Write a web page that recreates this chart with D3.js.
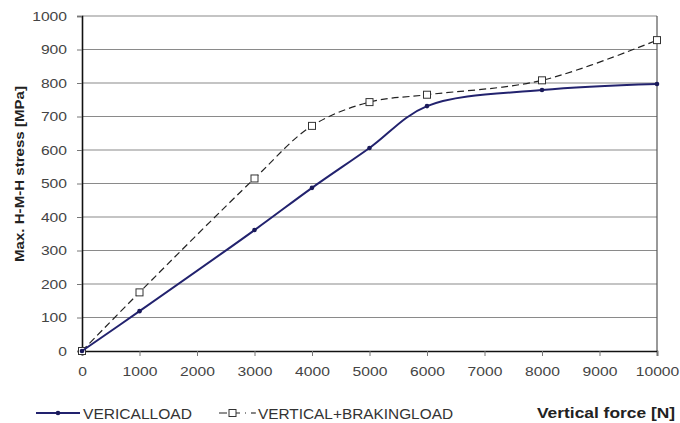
<!DOCTYPE html>
<html><head><meta charset="utf-8">
<script src="https://cdn.jsdelivr.net/npm/d3@7"></script>
<style>body{margin:0;background:#fff;font-family:"Liberation Sans",Arial,sans-serif;}</style>
</head><body><svg id="c" width="680" height="423"></svg>
<script>
const forces = [0, 1000, 3000, 4000, 5000, 6000, 8000, 10000];
const verticalLoad = [0, 119, 361, 487, 606, 731, 779, 797];
const verticalBraking = [0, 175, 515, 672, 743, 765, 808, 928];
const xTicks = [0,1000,2000,3000,4000,5000,6000,7000,8000,9000,10000];
const yTicks = [0,100,200,300,400,500,600,700,800,900,1000];
const seriesNames = ["VERICALLOAD", "VERTICAL+BRAKINGLOAD"];

const svg = d3.select("#c");
const m = {l:82, r:657, t:16, b:351};
const x = d3.scaleLinear().domain([0,10000]).range([m.l, m.r]);
const y = d3.scaleLinear().domain([0,1000]).range([m.b, m.t]);
const FF = "Liberation Sans, Arial, sans-serif";

// grid
svg.append("g").selectAll("line").data(yTicks.slice(1)).join("line")
  .attr("x1", m.l).attr("x2", m.r).attr("y1", d=>y(d)).attr("y2", d=>y(d))
  .attr("stroke", "#8a8a8a").attr("stroke-width", 1.2);
svg.append("line").attr("x1", m.r).attr("x2", m.r).attr("y1", m.t).attr("y2", m.b)
  .attr("stroke", "#555").attr("stroke-width", 1.2);

// axes
const yAxis = d3.axisLeft(y).tickValues(yTicks).tickSize(5).tickPadding(10).tickFormat(d3.format("d"));
const gy = svg.append("g").attr("transform", `translate(${m.l},0)`).call(yAxis);
const xAxis = d3.axisBottom(x).tickValues(xTicks).tickSize(5).tickPadding(10).tickFormat(d3.format("d"));
const gx = svg.append("g").attr("transform", `translate(0,${m.b})`).call(xAxis);
[gy, gx].forEach(g => {
  g.select(".domain").attr("stroke", "#111").attr("stroke-width", 1.6);
  g.selectAll(".tick line").attr("stroke", "#777");
  g.selectAll("text").attr("font-family", FF).attr("font-size", 13.5).attr("fill", "#444")
    .attr("textLength", function(){ return this.textContent.length * 8.7; })
    .attr("lengthAdjust", "spacingAndGlyphs");
});

// y title
svg.append("text").attr("transform", `translate(24,174) rotate(-90)`)
  .attr("text-anchor", "middle").attr("font-size", 12.5).attr("font-weight", "bold").attr("fill", "#222")
  .attr("textLength", 176).attr("lengthAdjust", "spacingAndGlyphs")
  .text("Max. H-M-H stress [MPa]");

const pts1 = forces.map((f,i)=>[f, verticalLoad[i]]);
const pts2 = forces.map((f,i)=>[f, verticalBraking[i]]);
const line = d3.line().x(d=>x(d[0])).y(d=>y(d[1])).curve(d3.curveCatmullRom.alpha(0.5));

svg.append("path").attr("d", line(pts2)).attr("fill", "none").attr("stroke", "#222")
  .attr("stroke-width", 1.2).attr("stroke-dasharray", "7,4");
svg.append("g").selectAll("rect").data(pts2).join("rect")
  .attr("x", d=>x(d[0])-3.5).attr("y", d=>y(d[1])-3.5).attr("width", 7).attr("height", 7)
  .attr("fill", "#fff").attr("stroke", "#333").attr("stroke-width", 1);

svg.append("path").attr("d", line(pts1)).attr("fill", "none").attr("stroke", "#22226e")
  .attr("stroke-width", 2);
svg.append("g").selectAll("circle").data(pts1).join("circle")
  .attr("cx", d=>x(d[0])).attr("cy", d=>y(d[1])).attr("r", 2.3).attr("fill", "#1a1a5a");

// legend
const ly = 413;
svg.append("line").attr("x1", 36).attr("x2", 80).attr("y1", ly).attr("y2", ly).attr("stroke", "#22226e").attr("stroke-width", 2);
svg.append("circle").attr("cx", 58).attr("cy", ly).attr("r", 2.3).attr("fill", "#1a1a5a");
svg.append("text").attr("x", 83).attr("y", ly+6).attr("font-size", 14).attr("fill", "#333")
  .attr("textLength", 109).attr("lengthAdjust", "spacingAndGlyphs").text(seriesNames[0]);
svg.append("line").attr("x1", 219).attr("x2", 246).attr("y1", ly).attr("y2", ly).attr("stroke", "#222").attr("stroke-width", 1.2).attr("stroke-dasharray", "8,5");
svg.append("rect").attr("x", 229).attr("y", ly-3.5).attr("width", 7).attr("height", 7).attr("fill", "#fff").attr("stroke", "#333");
svg.append("line").attr("x1", 251).attr("x2", 256).attr("y1", ly).attr("y2", ly).attr("stroke", "#333").attr("stroke-width", 1.2);
svg.append("text").attr("x", 258).attr("y", ly+6).attr("font-size", 14).attr("fill", "#333")
  .attr("textLength", 195).attr("lengthAdjust", "spacingAndGlyphs").text(seriesNames[1]);
svg.append("text").attr("x", 537).attr("y", ly+5).attr("font-size", 14).attr("font-weight", "bold").attr("fill", "#222")
  .attr("textLength", 138).attr("lengthAdjust", "spacingAndGlyphs").text("Vertical force [N]");
</script></body></html>
